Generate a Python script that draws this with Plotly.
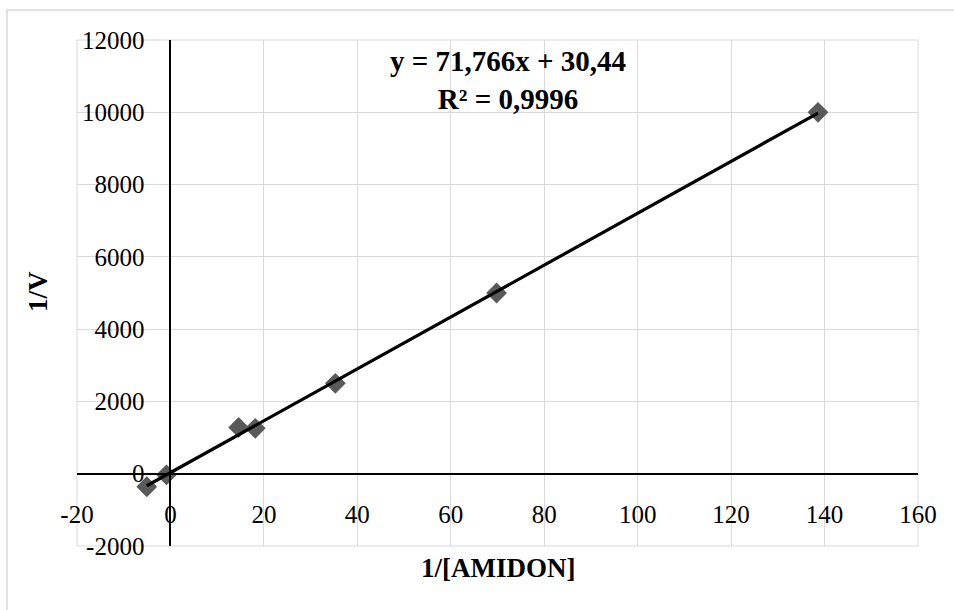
import plotly.graph_objects as go

# Data
x_inv_s = [-5.06, -0.85, 14.6, 18.15, 35.3, 69.8, 138.6]
y_inv_v = [-360, -30, 1280, 1255, 2500, 5000, 10000]

slope = 71.766
intercept = 30.44
eq_text = "y = 71,766x + 30,44"
r2_text = "R² = 0,9996"

x_tickvals = [-20, 0, 20, 40, 60, 80, 100, 120, 140, 160]
x_ticktext = ["-20", "0", "20", "40", "60", "80", "100", "120", "140", "160"]
y_tickvals = [-2000, 0, 2000, 4000, 6000, 8000, 10000, 12000]
y_ticktext = ["-2000", "0", "2000", "4000", "6000", "8000", "10000", "12000"]

x_title = "1/[AMIDON]"
y_title = "1/V"

FONT = "Liberation Serif"
GRID = "#d9d9d9"

x_min, x_max = min(x_inv_s), max(x_inv_s)
trend_x = [x_min, x_max]
trend_y = [slope * v + intercept for v in trend_x]

fig = go.Figure()
fig.add_trace(go.Scatter(
    x=x_inv_s, y=y_inv_v, mode="markers",
    marker=dict(symbol="diamond", size=16, color="#5a5a5a"),
    showlegend=False, hoverinfo="skip",
))
fig.add_trace(go.Scatter(
    x=trend_x, y=trend_y, mode="lines",
    line=dict(color="black", width=3.2),
    showlegend=False, hoverinfo="skip",
))

x0, x1 = -20, 160
y0, y1 = -2000, 12000

fig.update_layout(
    width=954, height=610,
    margin=dict(l=77, r=36, t=40, b=64),
    paper_bgcolor="white", plot_bgcolor="white",
    font=dict(family=FONT, color="black", size=25),
    xaxis=dict(
        range=[x0, x1], tickvals=x_tickvals, ticktext=x_ticktext,
        showgrid=True, gridcolor=GRID, gridwidth=1,
        zeroline=False, showline=True, linecolor="black", linewidth=2,
        anchor="free", position=(0 - y0) / (y1 - y0),
        ticks="outside", ticklen=18, tickcolor="rgba(0,0,0,0)",
        tickfont=dict(family=FONT, size=25, color="black"),
    ),
    yaxis=dict(
        range=[y0, y1], tickvals=y_tickvals, ticktext=y_ticktext,
        showgrid=True, gridcolor=GRID, gridwidth=1,
        zeroline=False, showline=True, linecolor="black", linewidth=2,
        anchor="free", position=(0 - x0) / (x1 - x0),
        ticks="outside", ticklen=20, tickcolor="rgba(0,0,0,0)",
        tickfont=dict(family=FONT, size=25, color="black"),
    ),
    shapes=[
        dict(type="rect", xref="paper", yref="paper", x0=0, x1=1, y0=0, y1=1,
             line=dict(color=GRID, width=1), layer="below"),
        dict(type="rect", xref="paper", yref="paper",
             x0=(7 - 77) / 841, x1=1.2, y0=-0.3, y1=(546 - 10) / 506,
             line=dict(color=GRID, width=1.5), layer="below"),
    ],
    annotations=[
        dict(xref="paper", yref="paper", x=(508 - 77) / 841, y=(546 - 80) / 506,
             text="<b>" + eq_text + "</b><br><b>" + r2_text + "</b>",
             showarrow=False, xanchor="center", yanchor="middle",
             font=dict(family=FONT, size=29, color="black"), align="center"),
        dict(xref="paper", yref="paper", x=0.5, y=(546 - 568) / 506,
             text="<b>" + x_title + "</b>", showarrow=False,
             xanchor="center", yanchor="middle",
             font=dict(family=FONT, size=27, color="black")),
        dict(xref="paper", yref="paper", x=(38 - 77) / 841, y=(546 - 292) / 506,
             text="<b>" + y_title + "</b>", showarrow=False, textangle=-90,
             xanchor="center", yanchor="middle",
             font=dict(family=FONT, size=27, color="black")),
    ],
)

fig.write_html("out.html")
